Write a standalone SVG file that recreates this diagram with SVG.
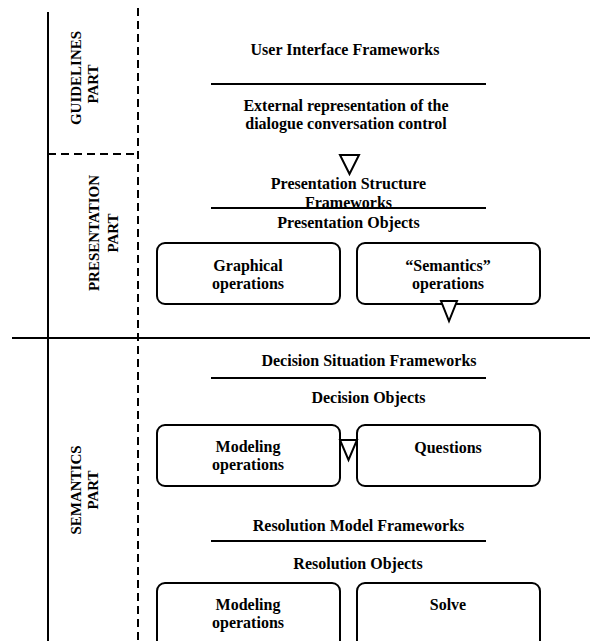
<svg xmlns="http://www.w3.org/2000/svg" width="590" height="641" viewBox="0 0 590 641">
<style>
text{font-family:"Liberation Serif","Times New Roman",serif;font-weight:bold;fill:#000;text-anchor:middle}
.h{font-size:16px}
.v{font-size:15px}
.solid{stroke:#000;stroke-width:2;fill:none}
.dash{stroke:#000;stroke-width:2;fill:none;stroke-dasharray:8,5}
.box{stroke:#000;stroke-width:2;fill:#fff}
.tri{stroke:#000;stroke-width:2;fill:#fff;stroke-linejoin:miter}
</style>
<rect width="590" height="641" fill="#fff"/>
<g id="frame">
<line class="solid" x1="48" y1="12" x2="48" y2="641"/>
<line class="dash" x1="138" y1="8" x2="138" y2="641"/>
<line class="dash" x1="48" y1="154" x2="138" y2="154"/>
<line class="solid" x1="12" y1="338" x2="590" y2="338"/>
</g>
<g id="part-labels">
<text class="v" transform="translate(81,78) rotate(-90)">GUIDELINES</text>
<text class="v" transform="translate(97.5,84) rotate(-90)">PART</text>
<text class="v" transform="translate(99,233) rotate(-90)">PRESENTATION</text>
<text class="v" transform="translate(117.5,233) rotate(-90)">PART</text>
<text class="v" transform="translate(81,490) rotate(-90)">SEMANTICS</text>
<text class="v" transform="translate(97.5,490) rotate(-90)">PART</text>
</g>
<g id="guidelines">
<text class="h" x="345" y="55">User Interface Frameworks</text>
<line class="solid" x1="211" y1="84" x2="486" y2="84"/>
<text class="h" x="346" y="111">External representation of the</text>
<text class="h" x="346" y="129">dialogue conversation control</text>
</g>
<g id="presentation">
<text class="h" x="348.5" y="189">Presentation Structure</text>
<text class="h" x="348.5" y="208">Frameworks</text>
<line class="solid" x1="211" y1="208" x2="486" y2="208"/>
<text class="h" x="348.5" y="228">Presentation Objects</text>
</g>
<g id="graphical-ops">
<rect class="box" x="157" y="243" width="183" height="61" rx="8"/>
<text class="h" x="248" y="271">Graphical</text>
<text class="h" x="248" y="289">operations</text>
</g>
<g id="semantics-ops">
<rect class="box" x="357" y="243" width="183" height="61" rx="8"/>
<text class="h" x="448" y="271">“Semantics”</text>
<text class="h" x="448" y="289">operations</text>
</g>
<g id="decision">
<text class="h" x="369" y="366">Decision Situation Frameworks</text>
<line class="solid" x1="211" y1="378" x2="486" y2="378"/>
<text class="h" x="368.5" y="403">Decision Objects</text>
</g>
<g id="modeling-ops-1">
<rect class="box" x="157" y="425" width="183" height="61" rx="8"/>
<text class="h" x="248" y="452">Modeling</text>
<text class="h" x="248" y="470">operations</text>
</g>
<g id="questions">
<rect class="box" x="357" y="425" width="183" height="61" rx="8"/>
<text class="h" x="448" y="453">Questions</text>
</g>
<g id="resolution">
<text class="h" x="358.5" y="531">Resolution Model Frameworks</text>
<line class="solid" x1="211" y1="541" x2="486" y2="541"/>
<text class="h" x="358" y="569">Resolution Objects</text>
</g>
<g id="modeling-ops-2">
<rect class="box" x="157" y="583" width="183" height="70" rx="8"/>
<text class="h" x="248" y="610">Modeling</text>
<text class="h" x="248" y="628">operations</text>
</g>
<g id="solve">
<rect class="box" x="357" y="583" width="183" height="70" rx="8"/>
<text class="h" x="448" y="610">Solve</text>
</g>
<g id="connectors">
<polygon class="tri" points="340,155 359,155 349.5,174"/>
<polygon class="tri" points="441,301 457,301 449,321"/>
<polygon class="tri" points="340,440 357,440 348.5,460"/>
</g>
</svg>
